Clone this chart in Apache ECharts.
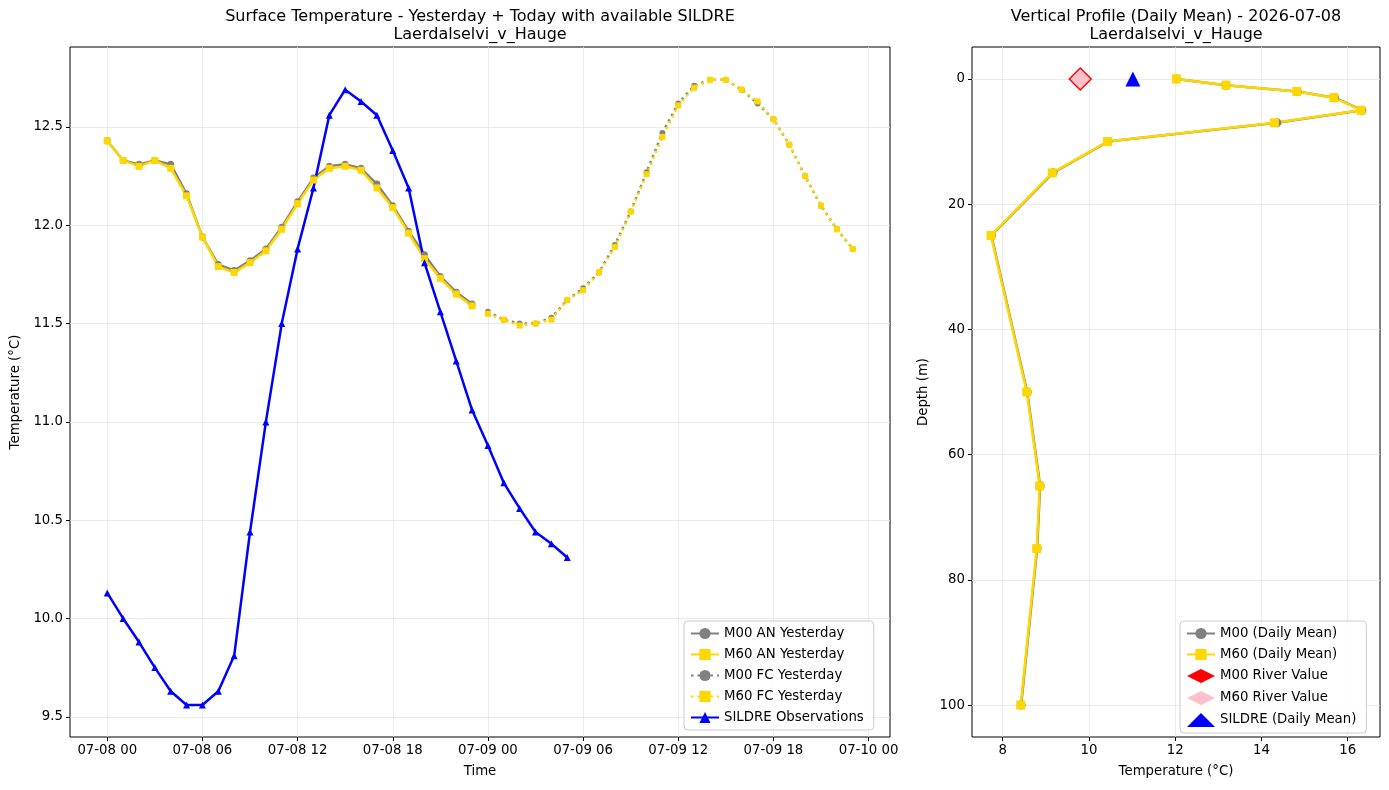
<!DOCTYPE html>
<html>
<head>
<meta charset="utf-8">
<script src="https://cdn.jsdelivr.net/npm/echarts@6/dist/echarts.min.js"></script>
<style>
  html, body { margin: 0; padding: 0; background: #fff; }
  #chart { width: 1389px; height: 790px; }
</style>
</head>
<body>
<div id="chart"></div>
<script>
// hours since 07-08 00
const hoursAN = [0, 1, 2, 3, 4, 5, 6, 7, 8, 9, 10, 11, 12, 13, 14, 15, 16, 17, 18, 19, 20, 21, 22, 23]
const hoursFC = [24, 25, 26, 27, 28, 29, 30, 31, 32, 33, 34, 35, 36, 37, 38, 39, 40, 41, 42, 43, 44, 45, 46, 47]
const hoursObs = [0, 1, 2, 3, 4, 5, 6, 7, 8, 9, 10, 11, 12, 13, 14, 15, 16, 17, 18, 19, 20, 21, 22, 23, 24, 25, 26, 27, 28, 29]

const m00An = [12.43, 12.33, 12.31, 12.33, 12.31, 12.16, 11.94, 11.80, 11.77, 11.82, 11.88, 11.99,
  12.12, 12.24, 12.30, 12.31, 12.29, 12.21, 12.10, 11.97, 11.85, 11.74, 11.66, 11.60]
const m60An = [12.43, 12.33, 12.30, 12.33, 12.29, 12.15, 11.94, 11.79, 11.76, 11.81, 11.87, 11.98,
  12.11, 12.23, 12.29, 12.30, 12.28, 12.19, 12.09, 11.96, 11.83, 11.73, 11.65, 11.59]
const m00Fc = [11.56, 11.52, 11.50, 11.50, 11.53, 11.62, 11.68, 11.76, 11.90, 12.07, 12.27, 12.47,
  12.62, 12.71, 12.74, 12.74, 12.69, 12.62, 12.54, 12.41, 12.25, 12.10, 11.98, 11.88]
const m60Fc = [11.55, 11.52, 11.49, 11.50, 11.52, 11.62, 11.67, 11.76, 11.89, 12.07, 12.26, 12.45,
  12.61, 12.70, 12.74, 12.74, 12.69, 12.63, 12.54, 12.41, 12.25, 12.10, 11.98, 11.88]
const sildreObs = [10.13, 10.00, 9.88, 9.75, 9.63, 9.56, 9.56, 9.63, 9.81, 10.44, 11.00, 11.50,
  11.88, 12.19, 12.56, 12.69, 12.63, 12.56, 12.38, 12.19, 11.81, 11.56, 11.31, 11.06,
  10.88, 10.69, 10.56, 10.44, 10.38, 10.31]

// tick labels
const timeTicks = [0, 6, 12, 18, 24, 30, 36, 42, 48]
const tempTicks = [9.5, 10.0, 10.5, 11.0, 11.5, 12.0, 12.5]
const profTempTicks = [8, 10, 12, 14, 16]
const depthTicks = [0, 20, 40, 60, 80, 100]

// vertical profile (daily mean)
const depths = [0, 1, 2, 3, 5, 7, 10, 15, 25, 50, 65, 75, 100]
const m00Profile = [12.03, 13.18, 14.83, 15.70, 16.33, 14.36, 10.44, 9.17, 7.74, 8.57, 8.87, 8.80, 8.43]
const m60Profile = [12.03, 13.18, 14.82, 15.68, 16.31, 14.30, 10.43, 9.15, 7.73, 8.56, 8.86, 8.79, 8.42]
const m00River = [9.80, 0]
const m60River = [9.80, 0]
const sildreMean = [11.02, 0]

const FONT = 'DejaVu Sans'
const GRID_COLOR = '#e6e6e6'

const pair = (xs, ys) => xs.map((x, i) => [x, ys[i]])
const pad = n => (n < 10 ? '0' + n : '' + n)
const timeLabel = h => '07-' + pad(8 + Math.floor(h / 24)) + ' ' + pad(h % 24)

const axisCommon = {
  axisLine: { show: false, onZero: false },
  axisTick: { show: true, inside: false, length: 4, lineStyle: { color: '#000', width: 1 } },
  axisLabel: { color: '#000', fontFamily: FONT, fontSize: 13.3, margin: 7 },
  splitLine: { show: true, lineStyle: { color: GRID_COLOR, width: 0.8 } },
  nameTextStyle: { color: '#000', fontFamily: FONT, fontSize: 13.3 },
  nameLocation: 'middle'
}

const legendCommon = {
  orient: 'vertical',
  backgroundColor: 'rgba(255,255,255,0.8)', borderColor: '#cccccc', borderWidth: 1, borderRadius: 4,
  padding: [6, 10, 6, 6], itemWidth: 28, itemHeight: 14, itemGap: 8,
  textStyle: { fontFamily: FONT, fontSize: 13.3, color: '#000' }
}

const chart = echarts.init(document.getElementById('chart'), null, { renderer: 'canvas' })

chart.setOption({
  backgroundColor: '#fff',
  animation: false,
  textStyle: { fontFamily: FONT },
  graphic: [
    { type: 'text', x: 480, y: 9, style: { text: 'Surface Temperature - Yesterday + Today with available SILDRE', textAlign: 'center', fontSize: 16, fontFamily: FONT, fill: '#000' } },
    { type: 'text', x: 480, y: 27, style: { text: 'Laerdalselvi_v_Hauge', textAlign: 'center', fontSize: 16, fontFamily: FONT, fill: '#000' } },
    { type: 'text', x: 1176, y: 9, style: { text: 'Vertical Profile (Daily Mean) - 2026-07-08', textAlign: 'center', fontSize: 16, fontFamily: FONT, fill: '#000' } },
    { type: 'text', x: 1176, y: 27, style: { text: 'Laerdalselvi_v_Hauge', textAlign: 'center', fontSize: 16, fontFamily: FONT, fill: '#000' } }
  ],
  grid: [
    { left: 70, right: 499, top: 47, bottom: 53, show: true, borderColor: '#000', borderWidth: 1, outerBoundsMode: 'none' },
    { left: 972, right: 9, top: 47, bottom: 53, show: true, borderColor: '#000', borderWidth: 1, outerBoundsMode: 'none' }
  ],
  legend: [
    {
      ...legendCommon, left: 684, top: 621,
      data: ['M00 AN Yesterday', 'M60 AN Yesterday', 'M00 FC Yesterday', 'M60 FC Yesterday', 'SILDRE Observations']
    },
    {
      ...legendCommon, left: 1180, top: 621,
      data: ['M00 (Daily Mean)', 'M60 (Daily Mean)', 'M00 River Value', 'M60 River Value', 'SILDRE (Daily Mean)']
    }
  ],
  xAxis: [
    {
      ...axisCommon, gridIndex: 0, type: 'value', min: -2.35, max: 49.35,
      name: 'Time', nameGap: 28,
      axisTick: { ...axisCommon.axisTick, customValues: timeTicks },
      axisLabel: { ...axisCommon.axisLabel, customValues: timeTicks, formatter: v => timeLabel(v) }
    },
    {
      ...axisCommon, gridIndex: 1, type: 'value', min: 7.29, max: 16.75,
      name: 'Temperature (°C)', nameGap: 28,
      axisTick: { ...axisCommon.axisTick, customValues: profTempTicks },
      axisLabel: { ...axisCommon.axisLabel, customValues: profTempTicks, formatter: v => String(v) }
    }
  ],
  yAxis: [
    {
      ...axisCommon, gridIndex: 0, type: 'value', min: 9.397, max: 12.907,
      name: 'Temperature (°C)', nameGap: 44,
      axisTick: { ...axisCommon.axisTick, customValues: tempTicks },
      axisLabel: { ...axisCommon.axisLabel, customValues: tempTicks, formatter: v => v.toFixed(1) }
    },
    {
      ...axisCommon, gridIndex: 1, type: 'value', inverse: true, min: -5.1, max: 105.1,
      name: 'Depth (m)', nameGap: 42,
      axisTick: { ...axisCommon.axisTick, customValues: depthTicks },
      axisLabel: { ...axisCommon.axisLabel, customValues: depthTicks, formatter: v => String(v) }
    }
  ],
  series: [
    {
      name: 'M00 AN Yesterday', type: 'line', xAxisIndex: 0, yAxisIndex: 0,
      data: pair(hoursAN, m00An), symbol: 'circle', symbolSize: 7,
      lineStyle: { color: 'gray', width: 2.5 }, itemStyle: { color: 'gray' }
    },
    {
      name: 'M60 AN Yesterday', type: 'line', xAxisIndex: 0, yAxisIndex: 0,
      data: pair(hoursAN, m60An), symbol: 'rect', symbolSize: 7,
      lineStyle: { color: 'gold', width: 2.5 }, itemStyle: { color: 'gold' }
    },
    {
      name: 'M00 FC Yesterday', type: 'line', xAxisIndex: 0, yAxisIndex: 0,
      data: pair(hoursFC, m00Fc), symbol: 'circle', symbolSize: 6,
      lineStyle: { color: 'gray', width: 2.5, type: [2.5, 4] }, itemStyle: { color: 'gray' }
    },
    {
      name: 'M60 FC Yesterday', type: 'line', xAxisIndex: 0, yAxisIndex: 0,
      data: pair(hoursFC, m60Fc), symbol: 'rect', symbolSize: 6,
      lineStyle: { color: 'gold', width: 2.5, type: [2.5, 4] }, itemStyle: { color: 'gold' }
    },
    {
      name: 'SILDRE Observations', type: 'line', xAxisIndex: 0, yAxisIndex: 0,
      data: pair(hoursObs, sildreObs), symbol: 'triangle', symbolSize: 7,
      lineStyle: { color: 'blue', width: 2.5 }, itemStyle: { color: 'blue' }
    },
    {
      name: 'M00 (Daily Mean)', type: 'line', xAxisIndex: 1, yAxisIndex: 1,
      data: pair(m00Profile, depths), symbol: 'circle', symbolSize: 9,
      lineStyle: { color: 'gray', width: 2.5 }, itemStyle: { color: 'gray' }
    },
    {
      name: 'M60 (Daily Mean)', type: 'line', xAxisIndex: 1, yAxisIndex: 1,
      data: pair(m60Profile, depths), symbol: 'rect', symbolSize: 9,
      lineStyle: { color: 'gold', width: 2.5 }, itemStyle: { color: 'gold' }
    },
    {
      name: 'M00 River Value', type: 'scatter', xAxisIndex: 1, yAxisIndex: 1,
      data: [m00River], symbol: 'diamond', symbolSize: 24, itemStyle: { color: 'red', opacity: 1 }
    },
    {
      name: 'M60 River Value', type: 'scatter', xAxisIndex: 1, yAxisIndex: 1,
      data: [m60River], symbol: 'diamond', symbolSize: 20, itemStyle: { color: 'pink', opacity: 1 }
    },
    {
      name: 'SILDRE (Daily Mean)', type: 'scatter', xAxisIndex: 1, yAxisIndex: 1,
      data: [sildreMean], symbol: 'triangle', symbolSize: 15, itemStyle: { color: 'blue', opacity: 1 }
    }
  ]
})
</script>
</body>
</html>
